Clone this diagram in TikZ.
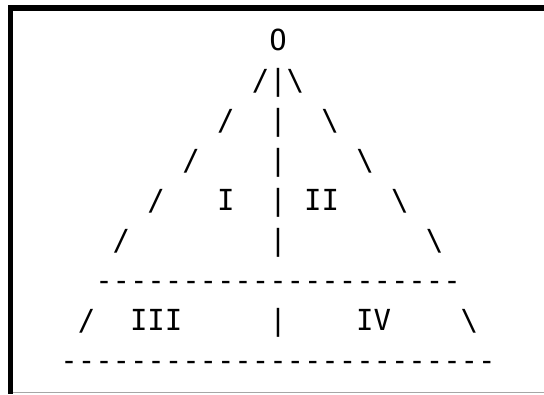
\documentclass[tikz,border=0pt]{standalone}
\usepackage{fontspec}
\newfontfamily\asciifont{DejaVu Sans Mono}
\begin{document}
\begin{tikzpicture}[x=1pt, y=1pt,
  glyph/.style={anchor=base, inner sep=0pt, font=\asciifont\fontsize{29}{29}\selectfont}]
\useasboundingbox (0,0) rectangle (544,-394);
% window frame: top and left edges, thin line at the bottom
\fill (8,-5) rectangle (544,-11);
\fill (8,-5) rectangle (13,-394);
\draw[black!35, line width=1pt] (13,-392.5) -- (544,-392.5);
\begin{scope}[shift={(278pt,-50pt)}, x=17.4pt, y=-40pt]
% apex
\node[glyph] (O) at (0,0) {O};
% sloping sides and middle bar
\foreach \r/\c in {1/1,2/3,3/5,4/7,5/9} {
  \node[glyph] (l\r) at (-\c,\r) {/};
  \node[glyph] (m\r) at (0,\r) {|};
  \node[glyph] (r\r) at (\c,\r) {\textbackslash};
}
% quadrant labels, upper part
\node[glyph] (qI) at (-3,4) {I};
\node[glyph] (qII) at (2.5,4) {II};
% first dashed rule
\foreach \k in {-10,...,10}
  \node[glyph] (a\k) at (\k,6) {-};
% lower band
\node[glyph] (l7) at (-11,7) {/};
\node[glyph] (qIII) at (-7,7) {III};
\node[glyph] (m7) at (0,7) {|};
\node[glyph] (qIV) at (5.5,7) {IV};
\node[glyph] (r7) at (11,7) {\textbackslash};
% bottom dashed rule
\foreach \k in {-12,...,12}
  \node[glyph] (b\k) at (\k,8) {-};
\end{scope}
\end{tikzpicture}
\end{document}
